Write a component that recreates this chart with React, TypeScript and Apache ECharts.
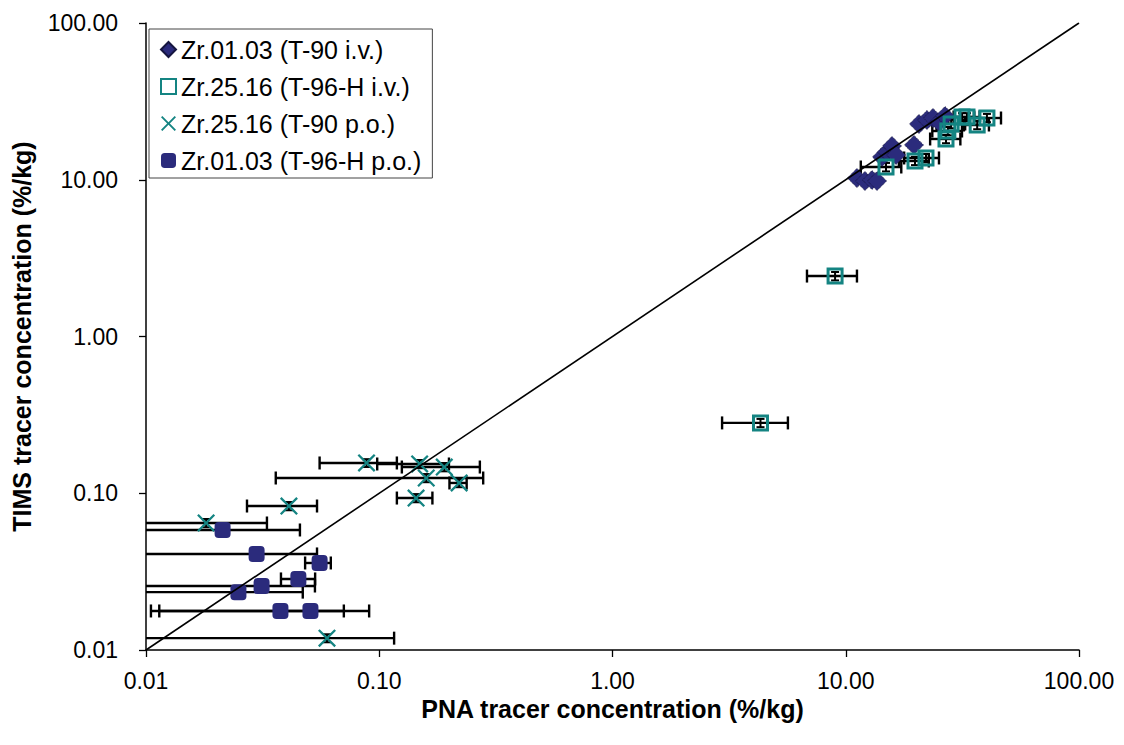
import React, { useEffect, useRef } from "react";
import * as echarts from "echarts";

// Zr.01.03 (T-90 i.v.)
const ivT90X = [11.17, 12.09, 12.96, 13.62, 14.3, 15.03, 15.79, 16.43, 19.62, 20.61, 22.3, 23.66, 25.1, 26.65];
const ivT90Y = [10.26, 9.82, 9.96, 9.82, 13.97, 15.03, 16.42, 14.38, 16.66, 22.69, 24.06, 24.77, 23.36, 25.5];

// Zr.25.16 (T-96-H i.v.)
const ivT96X = [14.88, 19.81, 22.08, 26.9, 27.4, 28.3, 31.5, 33.1, 36.6, 40.3, 9.0, 4.31];
const ivT96Y = [12.06, 13.17, 13.77, 18.2, 20.46, 22.69, 25.14, 25.14, 22.35, 24.77, 2.43, 0.281];
const ivT96XLo = [11.6, 16.9, 17.8, 23.0, 23.5, 24.5, 27.5, 29.0, 32.1, 35.5, 6.82, 2.95];
const ivT96XHi = [17.3, 22.7, 25.1, 31.0, 31.5, 32.5, 35.5, 37.5, 41.1, 46.3, 11.17, 5.65];
const ivT96YLo = [11.3, 12.4, 12.9, 17.1, 19.2, 21.3, 23.6, 23.6, 21.0, 23.3, 2.28, 0.264];
const ivT96YHi = [12.8, 14.0, 14.6, 19.3, 21.7, 24.1, 26.6, 26.6, 23.7, 26.3, 2.58, 0.298];

// Zr.25.16 (T-90 p.o.)
const poT90X = [0.0882, 0.149, 0.19, 0.159, 0.22, 0.1438, 0.041, 0.0181, 0.0597];
const poT90Y = [0.156, 0.1537, 0.147, 0.1251, 0.1163, 0.0932, 0.0829, 0.0646, 0.0119];
const poT90XLo = [0.0555, 0.098, 0.125, 0.036, 0.2, 0.119, 0.0271, 0.003, 0.004];
const poT90XHi = [0.119, 0.199, 0.27, 0.279, 0.237, 0.169, 0.0541, 0.033, 0.1158];
const poT90YLo = [0.147, 0.1445, 0.138, 0.1176, 0.1093, 0.0876, 0.0779, 0.0607, 0.0112];
const poT90YHi = [0.165, 0.163, 0.156, 0.1326, 0.1233, 0.0988, 0.0879, 0.0685, 0.0126];

// Zr.01.03 (T-96-H p.o.)
const poT96X = [0.0213, 0.0298, 0.0555, 0.045, 0.0313, 0.0249, 0.0377, 0.0507];
const poT96Y = [0.0583, 0.041, 0.0359, 0.0284, 0.0256, 0.0234, 0.01774, 0.01774];
const poT96XLo = [0.004, 0.005, 0.0481, 0.0379, 0.004, 0.003, 0.0114, 0.0105];
const poT96XHi = [0.0457, 0.0541, 0.062, 0.0531, 0.053, 0.047, 0.0705, 0.0905];

const seriesNames = [
  "Zr.01.03 (T-90 i.v.)",
  "Zr.25.16 (T-96-H i.v.)",
  "Zr.25.16 (T-90 p.o.)",
  "Zr.01.03 (T-96-H p.o.)",
];
const xTickLabels = ["0.01", "0.10", "1.00", "10.00", "100.00"];
const xTitle = "PNA tracer concentration (%/kg)";
const yTitle = "TIMS tracer concentration (%/kg)";

const NAVY = "#2b2b7c";
const TEAL = "#148482";
const FONT = "'Liberation Sans', Arial, sans-serif";
const AXIS_MIN = 0.01;
const X_PATH = "path://M0,0.9L0.9,0L5,4.1L9.1,0L10,0.9L5.9,5L10,9.1L9.1,10L5,5.9L0.9,10L0,9.1L4.1,5Z";

function pts(xs: number[], ys: number[]) {
  return xs.map((x, i) => [x, ys[i]]);
}
function errData(xs: number[], ys: number[], xl: number[], xh: number[], yl?: number[], yh?: number[]) {
  return xs.map((x, i) => [x, ys[i], xl[i], xh[i], yl ? yl[i] : ys[i], yh ? yh[i] : ys[i]]);
}

function renderErr(params: any, api: any) {
  const x = api.value(0);
  const y = api.value(1);
  const xl = api.value(2);
  const xh = api.value(3);
  const yl = api.value(4);
  const yh = api.value(5);
  const p = api.coord([x, y]);
  const style = { stroke: "#000", lineWidth: 2.4, fill: "none" };
  const cap = 6.5;
  const children: any[] = [];
  const hasLeft = xl >= AXIS_MIN;
  const lx = hasLeft ? api.coord([xl, y])[0] : api.coord([AXIS_MIN, y])[0];
  const rx = api.coord([xh, y])[0];
  children.push({ type: "line", shape: { x1: lx, y1: p[1], x2: rx, y2: p[1] }, style });
  if (hasLeft) children.push({ type: "line", shape: { x1: lx, y1: p[1] - cap, x2: lx, y2: p[1] + cap }, style });
  children.push({ type: "line", shape: { x1: rx, y1: p[1] - cap, x2: rx, y2: p[1] + cap }, style });
  if (yh > yl) {
    const ty = api.coord([x, yh])[1];
    const by = api.coord([x, yl])[1];
    const c2 = 4;
    const s2 = { ...style, lineWidth: 2 };
    children.push({ type: "line", shape: { x1: p[0], y1: ty, x2: p[0], y2: by }, style: s2 });
    children.push({ type: "line", shape: { x1: p[0] - c2, y1: ty, x2: p[0] + c2, y2: ty }, style: s2 });
    children.push({ type: "line", shape: { x1: p[0] - c2, y1: by, x2: p[0] + c2, y2: by }, style: s2 });
  }
  return { type: "group", children };
}

export default function App() {
  const ref = useRef<HTMLDivElement>(null);
  useEffect(() => {
    if (!ref.current) return;
    const chart = echarts.init(ref.current, null, { renderer: "svg" });
    const labelFmt = (v: number) => {
      const idx = [0.01, 0.1, 1, 10, 100].findIndex((t) => Math.abs(t - v) / t < 1e-6);
      return idx >= 0 ? xTickLabels[idx] : "";
    };
    const axisCommon = {
      type: "log",
      logBase: 10,
      min: 0.01,
      max: 100,
      axisLine: { show: true, lineStyle: { color: "#000", width: 1.5 } },
      axisTick: { show: true, inside: false, length: 7, lineStyle: { color: "#000", width: 1.3 } },
      minorTick: { show: false },
      splitLine: { show: false },
      nameLocation: "middle",
      nameTextStyle: { fontFamily: FONT, fontSize: 25, fontWeight: "bold", color: "#000" },
    };
    chart.setOption({
      animation: false,
      backgroundColor: "#fff",
      textStyle: { fontFamily: FONT },
      grid: { left: 146, top: 23, width: 933, height: 627, containLabel: false },
      legend: {
        data: seriesNames,
        orient: "vertical",
        left: 149,
        top: 29,
        padding: [8, 11, 5, 11],
        itemGap: 12,
        itemWidth: 15,
        itemHeight: 15,
        backgroundColor: "#fff",
        borderColor: "#444",
        borderWidth: 1,
        borderRadius: 0,
        textStyle: { fontFamily: FONT, fontSize: 25, color: "#000" },
      },
      xAxis: {
        ...axisCommon,
        name: xTitle,
        nameGap: 34,
        axisLabel: { formatter: labelFmt, fontFamily: FONT, fontSize: 23, color: "#000", margin: 19 },
      },
      yAxis: {
        ...axisCommon,
        name: yTitle,
        nameGap: 112,
        nameRotate: 90,
        axisLabel: { formatter: labelFmt, fontFamily: FONT, fontSize: 23, color: "#000", margin: 28 },
      },
      series: [
        {
          type: "custom",
          name: "err-ivT96",
          renderItem: renderErr,
          data: errData(ivT96X, ivT96Y, ivT96XLo, ivT96XHi, ivT96YLo, ivT96YHi),
          encode: { x: 0, y: 1 },
          z: 2,
          silent: true,
        },
        {
          type: "custom",
          name: "err-poT90",
          renderItem: renderErr,
          data: errData(poT90X, poT90Y, poT90XLo, poT90XHi, poT90YLo, poT90YHi),
          encode: { x: 0, y: 1 },
          z: 2,
          silent: true,
        },
        {
          type: "custom",
          name: "err-poT96",
          renderItem: renderErr,
          data: errData(poT96X, poT96Y, poT96XLo, poT96XHi),
          encode: { x: 0, y: 1 },
          z: 2,
          silent: true,
        },
        {
          type: "scatter",
          name: seriesNames[0],
          symbol: "diamond",
          symbolSize: 19,
          itemStyle: { color: NAVY, borderColor: "#15153f", borderWidth: 1, borderType: "dotted", opacity: 1 },
          data: pts(ivT90X, ivT90Y),
          z: 3,
        },
        {
          type: "scatter",
          name: seriesNames[1],
          symbol: "rect",
          symbolSize: 14,
          itemStyle: { color: "rgba(255,255,255,0)", borderColor: TEAL, borderWidth: 3, opacity: 1 },
          data: pts(ivT96X, ivT96Y),
          z: 4,
        },
        {
          type: "scatter",
          name: seriesNames[2],
          symbol: X_PATH,
          symbolSize: 18,
          itemStyle: { color: TEAL, opacity: 1 },
          data: pts(poT90X, poT90Y),
          z: 4,
        },
        {
          type: "scatter",
          name: seriesNames[3],
          symbol: "roundRect",
          symbolSize: 16,
          itemStyle: { color: NAVY, opacity: 1 },
          data: pts(poT96X, poT96Y),
          z: 4,
        },
        {
          type: "line",
          name: "1:1",
          data: [
            [0.01, 0.01],
            [100, 100],
          ],
          symbol: "none",
          lineStyle: { color: "#000", width: 1.6 },
          silent: true,
          z: 6,
        },
      ],
    });
    return () => chart.dispose();
  }, []);
  return (
    <div
      ref={ref}
      style={{ position: "fixed", left: 0, top: 0, width: 1124, height: 745, background: "#fff" }}
    />
  );
}
